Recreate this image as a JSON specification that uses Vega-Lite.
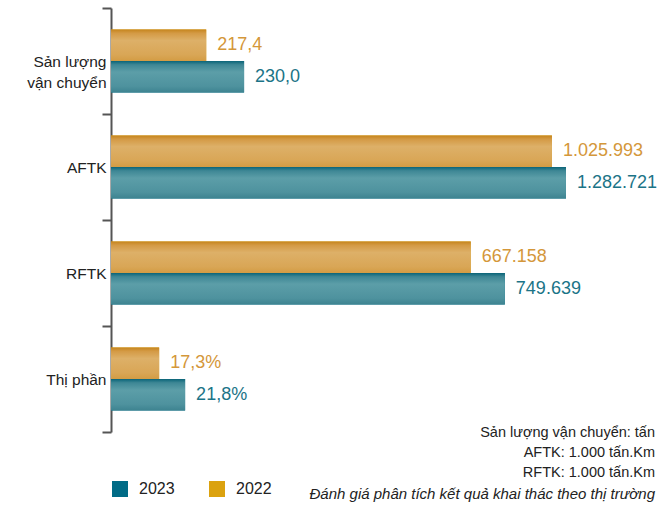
{
  "$schema": "https://vega.github.io/schema/vega-lite/v6.json",
  "width": 541,
  "height": 424,
  "autosize": "none",
  "padding": {"left": 111, "top": 8, "right": 13, "bottom": 74},
  "background": "white",
  "config": {
    "view": {"stroke": null},
    "font": "Liberation Sans"
  },
  "title": {
    "text": ["Sản lượng vận chuyển: tấn", "AFTK: 1.000 tấn.Km", "RFTK: 1.000 tấn.Km"],
    "subtitle": "Đánh giá phân tích kết quả khai thác theo thị trường",
    "orient": "bottom",
    "anchor": "end",
    "frame": "group",
    "offset": -71,
    "dx": 3,
    "font": "Liberation Sans",
    "fontSize": 14.5,
    "fontWeight": "normal",
    "color": "#222222",
    "lineHeight": 20,
    "subtitleFont": "Liberation Sans",
    "subtitleFontSize": 15,
    "subtitleFontStyle": "italic",
    "subtitleColor": "#222222",
    "subtitlePadding": 6
  },
  "data": {
    "values": [
      {"chi_tieu": "Sản lượng vận chuyển", "nam": "2022", "chieu_dai": 17.6, "nhan": "217,4"},
      {"chi_tieu": "Sản lượng vận chuyển", "nam": "2023", "chieu_dai": 24.6, "nhan": "230,0"},
      {"chi_tieu": "AFTK", "nam": "2022", "chieu_dai": 81.5, "nhan": "1.025.993"},
      {"chi_tieu": "AFTK", "nam": "2023", "chieu_dai": 84.1, "nhan": "1.282.721"},
      {"chi_tieu": "RFTK", "nam": "2022", "chieu_dai": 66.5, "nhan": "667.158"},
      {"chi_tieu": "RFTK", "nam": "2023", "chieu_dai": 72.8, "nhan": "749.639"},
      {"chi_tieu": "Thị phần", "nam": "2022", "chieu_dai": 8.9, "nhan": "17,3%"},
      {"chi_tieu": "Thị phần", "nam": "2023", "chieu_dai": 13.7, "nhan": "21,8%"}
    ]
  },
  "encoding": {
    "y": {
      "field": "chi_tieu",
      "type": "nominal",
      "sort": ["Sản lượng vận chuyển", "AFTK", "RFTK", "Thị phần"],
      "scale": {"paddingInner": 0, "paddingOuter": 0},
      "axis": {
        "title": null,
        "domainColor": "#555555",
        "domainWidth": 2,
        "tickColor": "#555555",
        "tickWidth": 2,
        "tickSize": 9,
        "tickBand": "extent",
        "labelPadding": -4,
        "labelFont": "Liberation Sans",
        "labelFontSize": 15.5,
        "labelColor": "#222222",
        "labelLineHeight": 21,
        "labelExpr": "datum.value == 'Sản lượng vận chuyển' ? ['Sản lượng', 'vận chuyển'] : datum.label"
      }
    },
    "yOffset": {
      "field": "nam",
      "type": "nominal",
      "sort": ["2022", "2023"],
      "scale": {"paddingInner": 0, "paddingOuter": 0.68}
    },
    "x": {
      "field": "chieu_dai",
      "type": "quantitative",
      "scale": {"domain": [0, 100]},
      "axis": null
    }
  },
  "layer": [
    {
      "mark": {"type": "bar", "cornerRadius": 0},
      "encoding": {
        "color": {
          "field": "nam",
          "type": "nominal",
          "scale": {"domain": ["2023", "2022"], "range": ["#006B86", "#DBA20F"]},
          "legend": {
            "title": null,
            "orient": "none",
            "direction": "horizontal",
            "legendX": 1,
            "legendY": 473,
            "padding": 0,
            "symbolType": "square",
            "symbolSize": 256,
            "symbolStrokeWidth": 0,
            "symbolOpacity": 1,
            "labelFont": "Liberation Sans",
            "labelFontSize": 16,
            "labelColor": "#222222",
            "labelOffset": 11,
            "columnPadding": 34
          }
        }
      }
    },
    {
      "transform": [{"filter": "datum.nam == '2022'"}],
      "mark": {
        "type": "bar",
        "color": {
          "gradient": "linear",
          "x1": 0, "y1": 0, "x2": 0, "y2": 1,
          "stops": [
            {"offset": 0, "color": "#C5841C"},
            {"offset": 0.12, "color": "#D49A45"},
            {"offset": 0.35, "color": "#DDB068"},
            {"offset": 0.8, "color": "#D9A656"},
            {"offset": 1, "color": "#D39C44"}
          ]
        }
      }
    },
    {
      "transform": [{"filter": "datum.nam == '2023'"}],
      "mark": {
        "type": "bar",
        "color": {
          "gradient": "linear",
          "x1": 0, "y1": 0, "x2": 0, "y2": 1,
          "stops": [
            {"offset": 0, "color": "#0A6478"},
            {"offset": 0.12, "color": "#3E8795"},
            {"offset": 0.35, "color": "#5C9EA8"},
            {"offset": 0.8, "color": "#4E929E"},
            {"offset": 1, "color": "#3D8390"}
          ]
        }
      }
    },
    {
      "mark": {
        "type": "text",
        "align": "left",
        "baseline": "middle",
        "dx": 11,
        "font": "Liberation Sans",
        "fontSize": 18
      },
      "encoding": {
        "text": {"field": "nhan"},
        "color": {
          "condition": {"test": "datum.nam == '2022'", "value": "#D4973A"},
          "value": "#1B7487"
        }
      }
    }
  ]
}
